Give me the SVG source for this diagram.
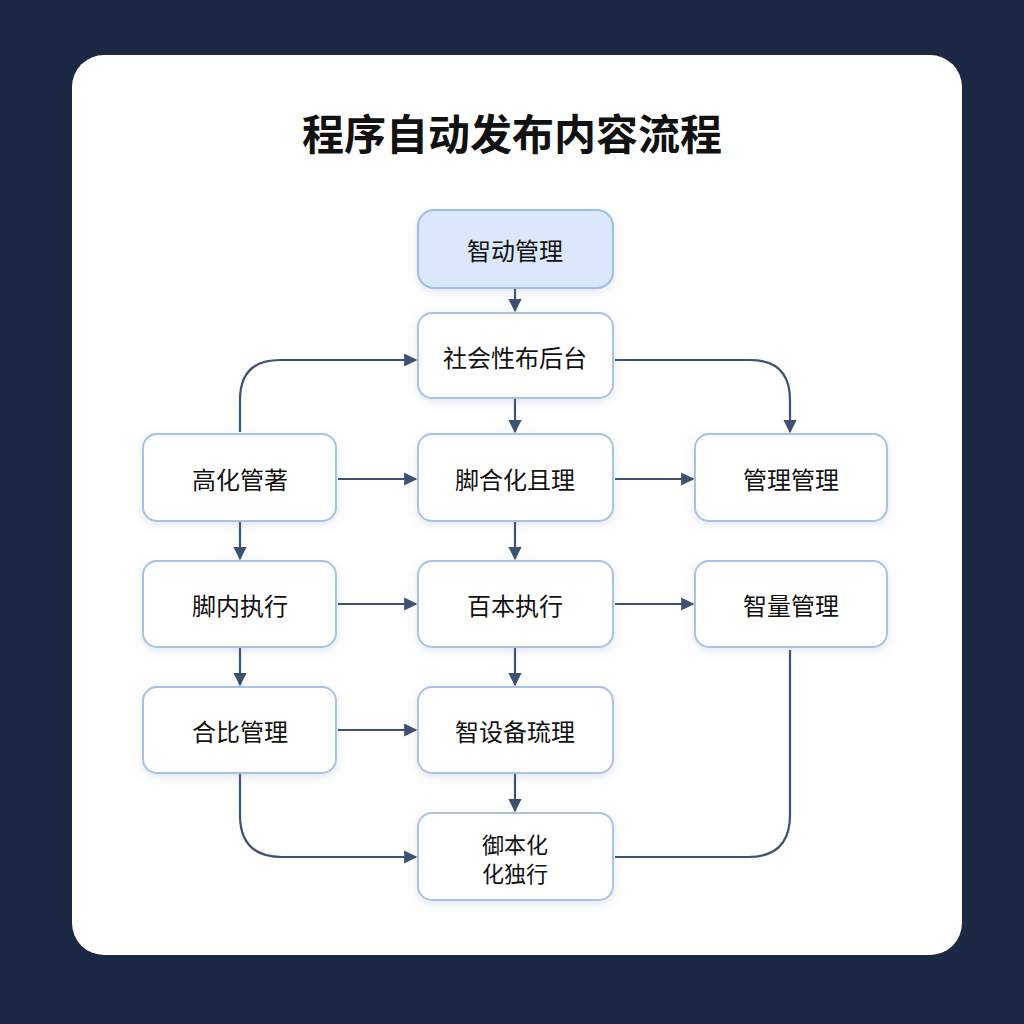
<svg xmlns="http://www.w3.org/2000/svg" width="1024" height="1024" viewBox="0 0 1024 1024">
<defs>
<marker id="ah" viewBox="0 0 10 10" refX="9" refY="5" markerWidth="6" markerHeight="6" orient="auto"><path d="M0,0 L10,5 L0,10 z" fill="#3d5273"/></marker>
<filter id="sh" x="-20%" y="-20%" width="140%" height="150%"><feDropShadow dx="0" dy="3" stdDeviation="4" flood-color="#5a78b0" flood-opacity="0.18"/></filter>
</defs>
<style>
.n{fill:#ffffff;stroke:#a9c2e6;stroke-width:2;filter:url(#sh)}
.t{font-family:"Noto Sans CJK SC","Noto Sans",sans-serif;font-size:24px;fill:#111;text-anchor:middle;dominant-baseline:central}
.c{fill:none;stroke:#3d5273;stroke-width:2.2;marker-end:url(#ah)}
</style>
<rect width="1024" height="1024" fill="#1b2844"/>
<rect x="72" y="55" width="890" height="900" rx="32" fill="#ffffff"/>
<text x="512" y="131" class="t" style="font-size:42px;font-weight:bold">程序自动发布内容流程</text>
<g id="connectors">
<path class="c" d="M515 288 V311"/>
<path class="c" d="M515 398 V432"/>
<path class="c" d="M515 521 V559"/>
<path class="c" d="M515 647 V685"/>
<path class="c" d="M515 773 V811"/>
<path class="c" d="M240 432 V400 Q240 360 280 360 H416"/>
<path class="c" d="M615 360 H750 Q790 360 790 400 V432"/>
<path class="c" d="M338 479 H416"/>
<path class="c" d="M615 479 H693"/>
<path class="c" d="M240 521 V559"/>
<path class="c" d="M240 647 V685"/>
<path class="c" d="M338 604 H416"/>
<path class="c" d="M615 604 H693"/>
<path class="c" d="M338 730 H416"/>
<path class="c" d="M240 773 V815 Q240 857 282 857 H416"/>
<path class="c" style="marker-end:none" d="M790 650 V815 Q790 857 748 857 H615"/>
</g>
<g id="n1"><rect class="n" x="418" y="210" width="195" height="78" rx="16" style="fill:#dbe8fb;stroke:#9dbde8"/><text class="t" x="515" y="249">智动管理</text></g>
<g id="n2"><rect class="n" x="418" y="313" width="195" height="85" rx="14"/><text class="t" x="515" y="356">社会性布后台</text></g>
<g id="n3"><rect class="n" x="143" y="434" width="193" height="87" rx="14"/><text class="t" x="240" y="478">高化管著</text></g>
<g id="n4"><rect class="n" x="418" y="434" width="195" height="87" rx="14"/><text class="t" x="515" y="478">脚合化且理</text></g>
<g id="n5"><rect class="n" x="695" y="434" width="192" height="87" rx="14"/><text class="t" x="791" y="478">管理管理</text></g>
<g id="n6"><rect class="n" x="143" y="561" width="193" height="86" rx="14"/><text class="t" x="240" y="604">脚内执行</text></g>
<g id="n7"><rect class="n" x="418" y="561" width="195" height="86" rx="14"/><text class="t" x="515" y="604">百本执行</text></g>
<g id="n8"><rect class="n" x="695" y="561" width="192" height="86" rx="14"/><text class="t" x="791" y="604">智量管理</text></g>
<g id="n9"><rect class="n" x="143" y="687" width="193" height="86" rx="14"/><text class="t" x="240" y="730">合比管理</text></g>
<g id="n10"><rect class="n" x="418" y="687" width="195" height="86" rx="14"/><text class="t" x="515" y="730">智设备琉理</text></g>
<g id="n11"><rect class="n" x="418" y="813" width="195" height="87" rx="14"/><text class="t" x="515" y="843" style="font-size:22px">御本化</text><text class="t" x="515" y="872" style="font-size:22px">化独行</text></g>
</svg>
